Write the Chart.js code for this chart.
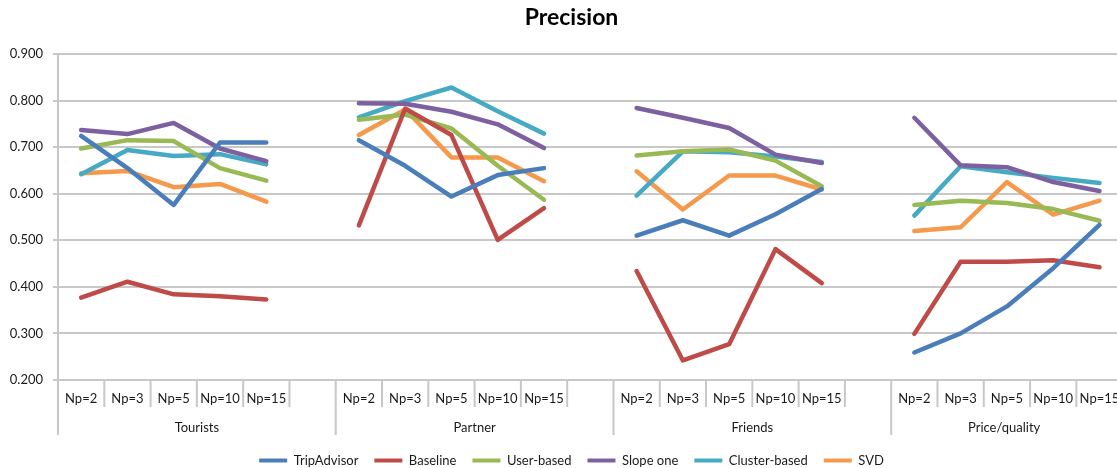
<!DOCTYPE html>
<html>
<head>
<meta charset="utf-8">
<title>Precision</title>
<script src="https://cdn.jsdelivr.net/npm/chart.js@4"></script>
<style>
  html, body { margin: 0; padding: 0; background: #fff; }
  #frame { width: 1117px; height: 468px; overflow: hidden; }
  #box { position: relative; width: 1143px; height: 477px; }
</style>
</head>
<body>
<div id="frame"><div id="box"><canvas id="myChart"></canvas></div></div>
<script>
// Gruppen und Np-Werte auf der x-Achse
const groups = ['Tourists', 'Partner', 'Friends', 'Price/quality'];
const npLabels = ['Np=2', 'Np=3', 'Np=5', 'Np=10', 'Np=15'];
const yTicks = [0.2, 0.3, 0.4, 0.5, 0.6, 0.7, 0.8, 0.9];

// je 5 Werte pro Gruppe: Tourists, Partner, Friends, Price/quality
const tripAdvisor  = [0.724, 0.655, 0.576, 0.710, 0.710,  0.715, 0.660, 0.594, 0.640, 0.655,  0.510, 0.543, 0.510, 0.556, 0.610,  0.259, 0.300, 0.358, 0.440, 0.533];
const baseline     = [0.377, 0.411, 0.384, 0.380, 0.373,  0.532, 0.783, 0.726, 0.501, 0.569,  0.434, 0.242, 0.277, 0.481, 0.408,  0.299, 0.454, 0.454, 0.457, 0.442];
const userBased    = [0.697, 0.715, 0.713, 0.655, 0.628,  0.759, 0.770, 0.740, 0.660, 0.587,  0.682, 0.691, 0.695, 0.671, 0.616,  0.576, 0.585, 0.580, 0.567, 0.542];
const slopeOne     = [0.737, 0.728, 0.752, 0.697, 0.670,  0.794, 0.793, 0.776, 0.749, 0.698,  0.784, 0.763, 0.741, 0.684, 0.666,  0.763, 0.661, 0.657, 0.625, 0.606];
const clusterBased = [0.642, 0.694, 0.681, 0.685, 0.663,  0.764, 0.799, 0.828, 0.777, 0.729,  0.596, 0.691, 0.689, 0.680, 0.668,  0.553, 0.659, 0.646, 0.634, 0.623];
const svd          = [0.644, 0.649, 0.614, 0.621, 0.583,  0.726, 0.781, 0.678, 0.678, 0.627,  0.648, 0.566, 0.639, 0.639, 0.609,  0.520, 0.528, 0.625, 0.555, 0.585];

const SLOTS = 6;          // 5 Kategorien + 1 Leerplatz pro Gruppe
const X_MAX = 22.94;      // Canvas ist breiter als das Fenster
const X_VISIBLE = 22.38;  // sichtbarer rechter Rand (fuer die Gruppenbeschriftung)

function toPoints(values) {
    const pts = [];
    groups.forEach((g, gi) => {
        npLabels.forEach((n, ni) => {
            pts.push({ x: gi * SLOTS + ni, y: values[gi * npLabels.length + ni] });
        });
        pts.push({ x: gi * SLOTS + npLabels.length, y: null });   // Luecke zwischen Gruppen
    });
    return pts;
}

function line(label, values, color) {
    return {
        label: label,
        data: toPoints(values),
        borderColor: color,
        backgroundColor: color,
        borderWidth: 4.5,
        borderJoinStyle: 'round',
        borderCapStyle: 'round',
        pointRadius: 0,
        pointHoverRadius: 0,
        tension: 0
    };
}

const gridColor = '#c8c8c8';
const textColor = '#1a1a1a';
const font = 'Lato';

// zeichnet die Kategorien- und Gruppenbeschriftung unter der Achse
const categoryAxis = {
    id: 'categoryAxis',
    afterDraw(chart) {
        const ctx = chart.ctx;
        const x = chart.scales.x;
        const bottom = chart.chartArea.bottom;
        ctx.save();
        ctx.strokeStyle = gridColor;
        ctx.lineWidth = 2;
        for (let k = 0; k < groups.length * SLOTS; k++) {
            const px = x.getPixelForValue(k - 0.5);
            const long = k % SLOTS === 0;
            ctx.beginPath();
            ctx.moveTo(px, bottom);
            ctx.lineTo(px, bottom + (long ? 55 : 27));
            ctx.stroke();
        }
        ctx.fillStyle = textColor;
        ctx.textAlign = 'center';
        ctx.textBaseline = 'middle';
        ctx.font = '13px ' + font;
        groups.forEach((g, gi) => {
            npLabels.forEach((n, ni) => {
                ctx.fillText(n, x.getPixelForValue(gi * SLOTS + ni), bottom + 19);
            });
            const from = gi * SLOTS - 0.5;
            const to = Math.min(from + SLOTS, X_VISIBLE);
            ctx.fillText(g, x.getPixelForValue((from + to) / 2), bottom + 48);
        });
        ctx.restore();
    }
};

const config = {
    type: 'line',
    data: {
        datasets: [
            line('TripAdvisor', tripAdvisor, '#4A7EBB'),
            line('Baseline', baseline, '#BE4B48'),
            line('User-based', userBased, '#98B954'),
            line('Slope one', slopeOne, '#7D60A0'),
            line('Cluster-based', clusterBased, '#46AAC5'),
            line('SVD', svd, '#F59A4C')
        ]
    },
    options: {
        responsive: true,
        maintainAspectRatio: false,
        animation: false,
        layout: { padding: 0 },
        plugins: {
            title: {
                display: true,
                text: 'Precision',
                color: '#000',
                font: { family: font, size: 23, weight: 'bold' },
                padding: { top: 4, bottom: 22.4 }
            },
            legend: {
                position: 'bottom',
                labels: {
                    color: textColor,
                    font: { family: font, size: 13 },
                    boxWidth: 28,
                    boxHeight: 4,
                    padding: 16,
                    generateLabels: chart => Chart.defaults.plugins.legend.labels.generateLabels(chart)
                        .map(l => Object.assign(l, { lineWidth: 0 }))
                }
            },
            tooltip: { enabled: false }
        },
        scales: {
            x: {
                type: 'linear',
                min: -0.5,
                max: X_MAX,
                grid: { display: false },
                border: { display: false },
                ticks: { display: false },
                afterFit: s => { s.height = 58; }
            },
            y: {
                min: 0.2,
                max: 0.9,
                afterBuildTicks: s => { s.ticks = yTicks.map(v => ({ value: v })); },
                afterFit: s => { s.width = 58; },
                grid: { color: gridColor, lineWidth: 2, tickLength: 5 },
                border: { color: gridColor, width: 2 },
                ticks: {
                    padding: 10,
                    color: textColor,
                    font: { family: font, size: 13 },
                    callback: v => v.toFixed(3)
                }
            }
        }
    },
    plugins: [categoryAxis]
};

new Chart(document.querySelector('#myChart').getContext('2d'), config);
</script>
</body>
</html>
